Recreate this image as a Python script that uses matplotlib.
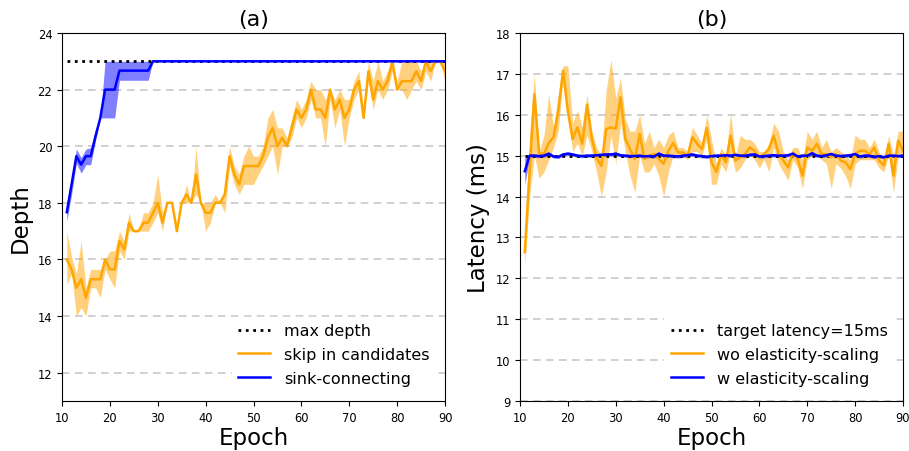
import matplotlib
matplotlib.use("Agg")
import matplotlib.pyplot as plt
import numpy as np

epochs = list(range(11, 91))

# ---- (a) Depth ----
max_depth = 23
skip_mean = [16.0, 15.65, 15.0, 15.3, 14.65, 15.3, 15.3, 15.3, 16.0, 15.65,
             15.65, 16.65, 16.35, 17.3, 17.0, 17.0, 17.3, 17.3, 17.65, 18.0,
             17.3, 18.0, 18.0, 17.0, 18.0, 18.3, 18.0, 19.0, 18.0, 17.65,
             17.65, 18.0, 18.0, 18.3, 19.65, 19.0, 18.65, 19.3, 19.3, 19.3,
             19.3, 19.65, 20.3, 20.65, 20.0, 20.3, 20.0, 20.65, 21.3, 21.0,
             21.3, 22.0, 21.3, 21.3, 21.0, 22.0, 21.3, 21.65, 21.0, 21.3,
             22.0, 22.3, 21.0, 22.65, 21.65, 22.3, 22.0, 22.3, 23.0, 22.0,
             22.3, 22.3, 22.3, 22.65, 22.3, 23.0, 22.65, 23.0, 23.0, 22.65]
skip_low = [15.1, 15.5, 14.0, 14.3, 14.0, 15.0, 15.0, 14.65, 15.65, 15.3,
            15.0, 16.3, 16.0, 17.0, 17.0, 17.0, 17.0, 17.0, 17.3, 17.65,
            17.0, 18.0, 18.0, 17.0, 18.0, 18.0, 18.0, 18.3, 18.0, 17.0,
            17.3, 18.0, 18.0, 17.65, 19.3, 18.65, 18.3, 18.65, 18.65, 18.65,
            19.0, 19.3, 19.65, 20.0, 19.0, 20.0, 20.0, 20.3, 21.0, 20.65,
            21.0, 21.65, 21.0, 21.0, 20.0, 21.65, 20.65, 21.3, 20.0, 21.0,
            21.65, 22.0, 21.0, 22.3, 21.3, 22.0, 21.65, 22.0, 22.65, 22.0,
            22.0, 21.65, 22.0, 22.3, 22.0, 22.65, 22.3, 23.0, 23.0, 22.3]
skip_high = [17.0, 16.1, 15.5, 16.65, 15.0, 15.65, 15.65, 15.65, 16.0, 16.3,
             16.3, 17.0, 16.65, 17.65, 17.0, 17.0, 17.65, 17.65, 18.0, 19.0,
             17.65, 18.0, 18.0, 17.0, 18.0, 18.65, 18.0, 20.0, 18.0, 18.0,
             18.0, 18.3, 18.0, 18.3, 20.0, 19.3, 19.0, 19.65, 20.0, 19.65,
             19.65, 20.0, 21.0, 21.3, 20.65, 20.65, 20.3, 21.0, 21.65, 21.3,
             21.65, 22.3, 22.0, 22.0, 21.65, 22.0, 21.65, 22.0, 21.65, 21.65,
             22.3, 22.65, 21.3, 23.0, 22.3, 23.0, 22.3, 22.65, 23.0, 22.3,
             23.0, 23.0, 23.0, 23.0, 22.65, 23.0, 23.0, 23.0, 23.0, 23.0]
sink_mean = [17.67, 18.65, 19.65, 19.35, 19.65, 19.65, 20.35, 21.0, 22.0, 22.0,
             22.0, 22.67, 22.67, 22.67, 22.67, 22.67, 22.67, 22.67, 23.0, 23.0] + [23.0] * 60
sink_low = [17.35, 18.3, 19.4, 19.05, 19.35, 19.35, 20.2, 21.0, 21.0, 21.0,
            21.0, 22.33, 22.33, 22.33, 22.33, 22.33, 22.33, 22.33, 23.0, 23.0] + [23.0] * 60
sink_high = [17.95, 18.9, 19.9, 19.6, 19.9, 19.95, 20.6, 21.0, 23.0, 23.0,
             23.0, 23.0, 23.0, 23.0, 23.0, 23.0, 23.0, 23.0, 23.0, 23.0] + [23.0] * 60

# ---- (b) Latency ----
target_latency = 15
wo_mean = [12.64, 14.6, 16.5, 15.06, 15.04, 15.31, 15.45, 16.1, 17.08, 16.08,
           15.41, 15.69, 15.29, 16.25, 15.43, 14.94, 14.75, 15.65, 15.69, 15.66,
           16.43, 15.41, 15.16, 14.92, 15.53, 14.92, 15.0, 15.04, 14.92, 14.8,
           15.12, 15.31, 15.08, 15.08, 15.0, 15.45, 15.29, 15.16, 15.68, 14.84,
           14.6, 15.04, 14.84, 15.49, 14.88, 14.96, 15.04, 15.2, 15.12, 14.96,
           15.04, 15.16, 15.49, 15.04, 14.88, 14.71, 15.08, 14.92, 14.51, 15.2,
           15.12, 15.29, 15.04, 15.04, 14.96, 15.04, 14.88, 14.84, 14.67, 15.04,
           15.12, 15.12, 15.04, 15.2, 14.88, 14.76, 15.29, 14.51, 15.37, 15.12]
wo_low = [12.3, 14.0, 15.0, 14.45, 14.6, 14.9, 15.2, 15.6, 16.9, 15.9,
          15.1, 15.3, 15.0, 15.5, 15.1, 14.6, 14.0, 14.6, 15.5, 14.8,
          15.8, 15.1, 14.5, 14.1, 15.0, 14.6, 14.6, 14.8, 14.5, 14.0,
          14.6, 15.0, 15.0, 15.0, 14.9, 15.1, 15.1, 15.0, 15.4, 14.3,
          14.3, 14.8, 14.6, 15.1, 14.6, 14.7, 14.9, 15.0, 14.9, 14.7,
          14.9, 14.6, 15.2, 14.8, 14.6, 14.4, 14.9, 14.7, 14.2, 14.9,
          15.0, 15.0, 14.9, 14.8, 14.2, 14.8, 14.7, 14.5, 14.2, 14.8,
          14.9, 14.9, 14.9, 14.9, 14.7, 14.6, 15.0, 14.1, 15.0, 15.0]
wo_high = [12.95, 15.5, 17.0, 15.1, 15.5, 16.5, 15.7, 16.5, 17.2, 17.2,
           15.8, 16.1, 15.7, 16.5, 15.6, 15.2, 15.0, 16.6, 17.35, 16.4,
           16.9, 15.9, 15.6, 15.6, 16.0, 15.3, 15.6, 15.2, 15.4, 15.2,
           15.5, 15.6, 15.2, 15.2, 15.1, 15.7, 15.5, 15.3, 16.0, 15.4,
           14.8, 15.2, 15.0, 16.05, 15.0, 15.5, 15.4, 15.4, 15.3, 15.1,
           15.1, 15.3, 15.8, 15.6, 15.1, 14.9, 15.2, 15.2, 14.9, 15.6,
           15.4, 15.6, 15.2, 15.4, 15.1, 15.2, 15.1, 15.0, 14.9, 15.5,
           15.4, 15.4, 15.2, 15.4, 15.1, 14.9, 15.5, 15.0, 15.6, 15.6]
w_mean = [14.62, 15.0, 15.0, 14.99, 15.0, 15.05, 14.98, 14.97, 15.03, 15.05,
          15.03, 15.0, 14.99, 15.0, 15.0, 15.01, 15.02, 15.03, 15.03, 15.05,
          15.01, 15.0, 14.99, 14.99, 15.0, 14.98, 14.99, 14.98, 15.05, 15.0,
          15.0, 14.99, 14.98, 15.0, 15.01, 15.03, 15.0, 14.99, 14.97, 14.99,
          15.0, 15.0, 15.01, 15.0, 15.02, 15.0, 15.0, 15.02, 15.03, 14.98,
          14.99, 15.0, 15.01, 15.0, 15.0, 15.01, 15.05, 14.98, 15.0, 15.0,
          15.06, 15.0, 14.99, 15.01, 15.04, 15.0, 14.99, 15.0, 15.01, 15.04,
          14.98, 15.0, 15.0, 14.97, 14.99, 14.96, 15.0, 15.0, 14.99, 15.0]
w_low = [14.30, 14.95, 14.96, 14.95, 14.96, 15.0, 14.94, 14.93, 14.99, 15.0,
         14.99, 14.96, 14.95, 14.96, 14.96, 14.97, 14.98, 14.99, 14.99, 15.0,
         14.97, 14.96, 14.95, 14.95, 14.96, 14.94, 14.95, 14.94, 15.0, 14.96,
         14.96, 14.95, 14.94, 14.96, 14.97, 14.99, 14.96, 14.95, 14.93, 14.95,
         14.96, 14.96, 14.97, 14.96, 14.98, 14.96, 14.96, 14.98, 14.99, 14.94,
         14.95, 14.96, 14.97, 14.96, 14.96, 14.97, 15.0, 14.94, 14.96, 14.96,
         15.01, 14.96, 14.95, 14.97, 15.0, 14.96, 14.95, 14.96, 14.97, 15.0,
         14.94, 14.96, 14.96, 14.93, 14.95, 14.92, 14.96, 14.96, 14.95, 14.96]
w_high = [14.95, 15.05, 15.04, 15.03, 15.04, 15.09, 15.02, 15.01, 15.07, 15.09,
          15.07, 15.04, 15.03, 15.04, 15.04, 15.05, 15.06, 15.07, 15.07, 15.09,
          15.05, 15.04, 15.03, 15.03, 15.04, 15.02, 15.03, 15.02, 15.09, 15.04,
          15.04, 15.03, 15.02, 15.04, 15.05, 15.07, 15.04, 15.03, 15.01, 15.03,
          15.04, 15.04, 15.05, 15.04, 15.06, 15.04, 15.04, 15.06, 15.07, 15.02,
          15.03, 15.04, 15.05, 15.04, 15.04, 15.05, 15.09, 15.02, 15.04, 15.04,
          15.10, 15.04, 15.03, 15.05, 15.08, 15.04, 15.03, 15.04, 15.05, 15.08,
          15.02, 15.04, 15.04, 15.01, 15.03, 15.00, 15.04, 15.04, 15.03, 15.04]

x_ticks = [10, 20, 30, 40, 50, 60, 70, 80, 90]
depth_ticks = [12, 14, 16, 18, 20, 22, 24]
lat_ticks = [9, 10, 11, 12, 13, 14, 15, 16, 17, 18]

ORANGE = "orange"
BLUE = "blue"
LW = 1.8
TICK_FS = 8.3
LABEL_FS = 16.5
TITLE_FS = 16
LEG_FS = 11.5

fig = plt.figure(figsize=(9.09, 4.52), dpi=100)
ax1 = fig.add_axes([62 / 909, 50 / 452, 383 / 909, 368 / 452])
ax2 = fig.add_axes([520 / 909, 50 / 452, 383 / 909, 368 / 452])


def style(ax):
    ax.grid(axis="y", linestyle=(0, (5, 3.5)), color="#c4c4c4", linewidth=1.1)
    ax.set_axisbelow(True)
    ax.tick_params(labelsize=TICK_FS)
    ax.set_xlim(10, 90)
    ax.set_xticks(x_ticks)


leg_kw = dict(loc="lower right", fontsize=LEG_FS, frameon=True, framealpha=1,
              edgecolor="white", handlelength=2.0, handletextpad=0.9,
              borderaxespad=0.55, labelspacing=0.55)

# (a)
ax1.plot(epochs, [max_depth] * len(epochs), color="black", linestyle=":", linewidth=2, label="max depth")
ax1.fill_between(epochs, skip_low, skip_high, color=ORANGE, alpha=0.5, linewidth=0)
ax1.plot(epochs, skip_mean, color=ORANGE, linewidth=LW, label="skip in candidates")
ax1.fill_between(epochs, sink_low, sink_high, color=BLUE, alpha=0.5, linewidth=0)
ax1.plot(epochs, sink_mean, color=BLUE, linewidth=LW, label="sink-connecting")
style(ax1)
ax1.set_ylim(11, 24)
ax1.set_yticks(depth_ticks)
ax1.set_xlabel("Epoch", fontsize=LABEL_FS, labelpad=2)
ax1.set_ylabel("Depth", fontsize=LABEL_FS, labelpad=4)
ax1.set_title("(a)", fontsize=TITLE_FS, pad=6)
ax1.legend(**leg_kw)

# (b)
ax2.plot(epochs, [target_latency] * len(epochs), color="black", linestyle=":", linewidth=2,
         label="target latency=15ms")
ax2.fill_between(epochs, wo_low, wo_high, color=ORANGE, alpha=0.5, linewidth=0)
ax2.plot(epochs, wo_mean, color=ORANGE, linewidth=LW, label="wo elasticity-scaling")
ax2.fill_between(epochs, w_low, w_high, color=BLUE, alpha=0.5, linewidth=0)
ax2.plot(epochs, w_mean, color=BLUE, linewidth=LW, label="w elasticity-scaling")
style(ax2)
ax2.set_ylim(9, 18)
ax2.set_yticks(lat_ticks)
ax2.set_xlabel("Epoch", fontsize=LABEL_FS, labelpad=2)
ax2.set_ylabel("Latency (ms)", fontsize=LABEL_FS, labelpad=4)
ax2.set_title("(b)", fontsize=TITLE_FS, pad=6)
ax2.legend(**leg_kw)

fig.savefig("out.png", dpi=100)
